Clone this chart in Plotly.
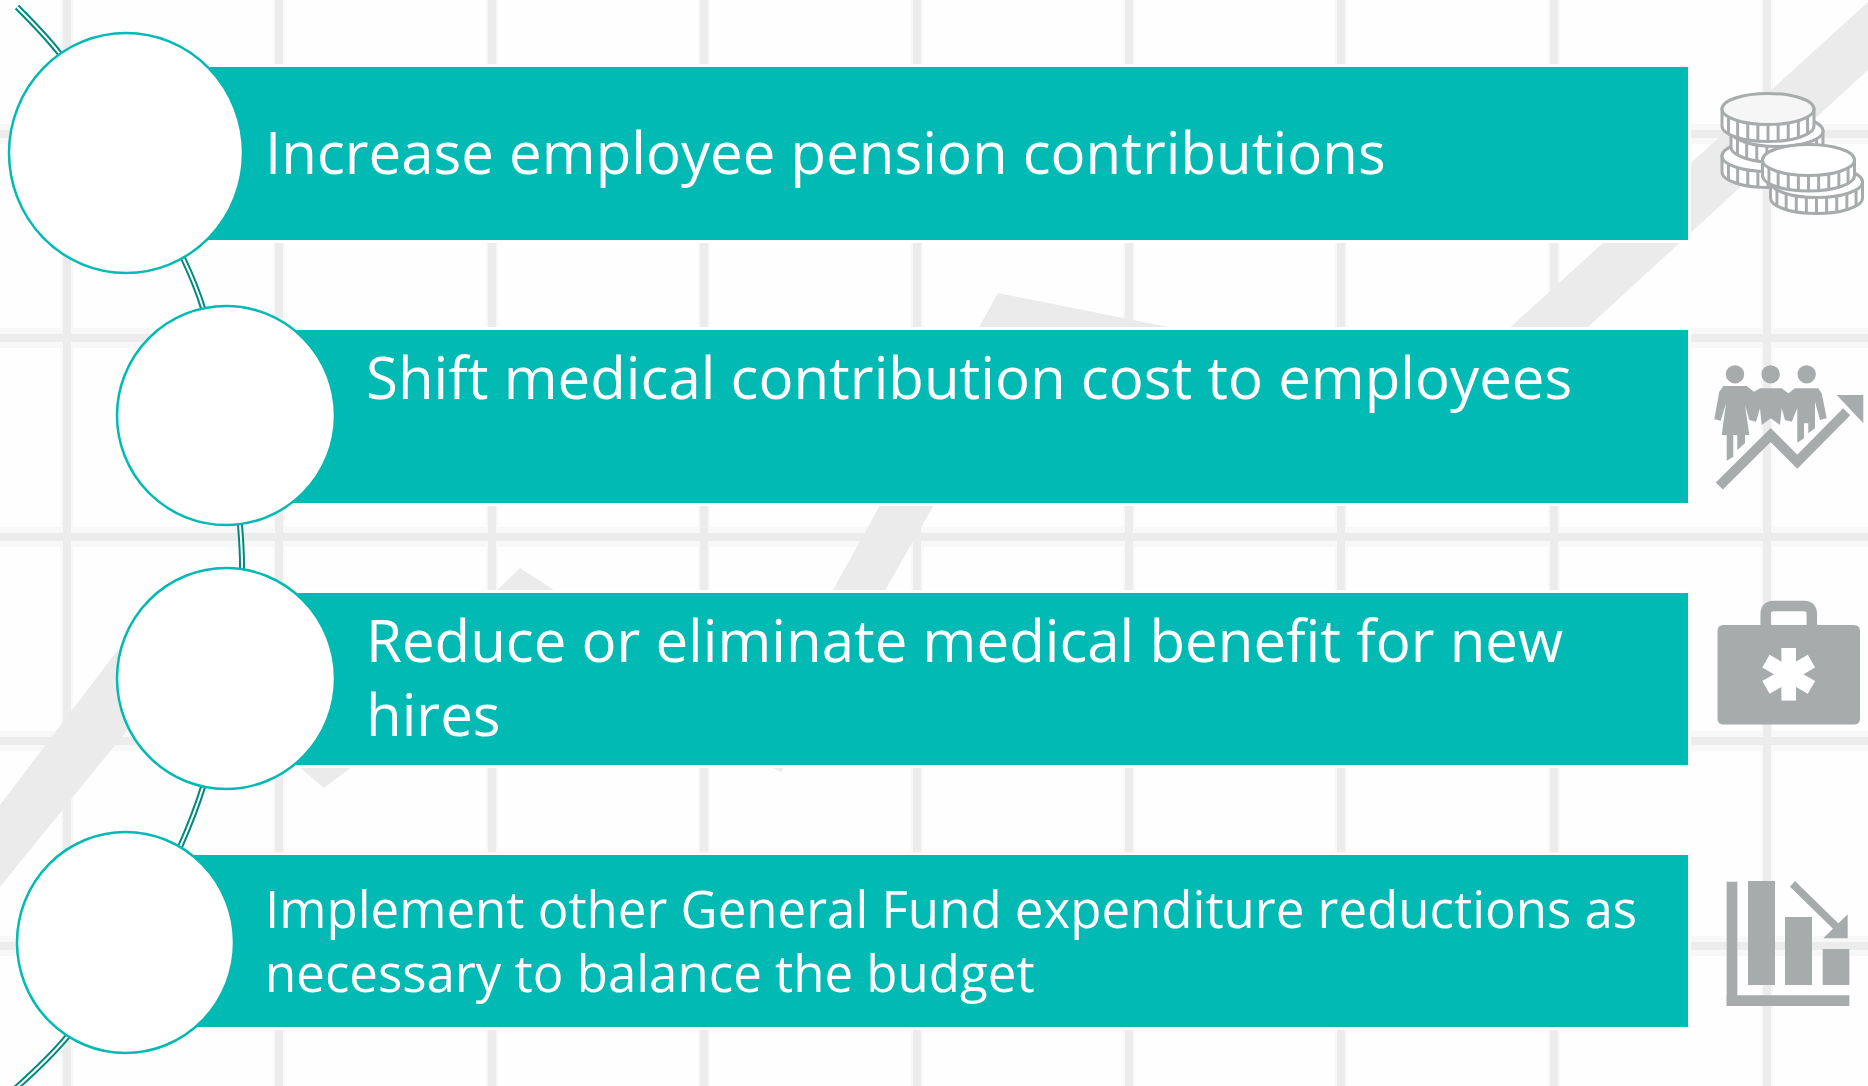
import math
import plotly.graph_objects as go

# ---------- content ----------
LABELS = [
    "Increase employee pension contributions",
    "Shift medical contribution cost to employees",
    "Reduce or eliminate medical benefit for new",
    "hires",
    "Implement other General Fund expenditure reductions as",
    "necessary to balance the budget",
]

# ---------- layout geometry (pixels of the 1868x1086 canvas) ----------
W, H = 1868, 1086
BAND_RIGHT = 1688
BAND_Y = [(67, 240), (330, 503), (593, 765), (855, 1027)]
CIRCLES = [(9, 243, 33, 273), (117, 335, 306, 525), (117, 335, 568, 789), (17, 234, 832, 1053)]
TEXT_POS = [(263, 151, 58.2), (364, 376, 58.2), (364, 639, 58.2), (364, 713, 58.2), (263, 908, 51), (263, 972, 51)]
GRID_X = [67, 279, 492, 704, 917, 1129, 1341, 1554, 1767]
GRID_Y = [134, 338, 537, 741, 946]
ARC_X = [17, 60, 120, 183, 203, 228, 240, 242, 236, 203, 180, 130, 67, 15]
ARC_Y = [7, 54, 145, 258, 308, 420, 525, 569, 650, 787, 847, 945, 1037, 1089]
BG_ZIGZAG = [(0, 805), (117, 651), (170, 590), (360, 724), (520, 568), (759, 723), (998, 293),
              (1449, 383), (1868, 2), (1868, 70), (1588, 327), (1470, 440), (1010, 372),
              (781, 772), (520, 640), (324, 788), (180, 665), (0, 887)]

TEAL = "#00bab3"
DARK = "#00897f"
GRAY = "#a8abac"
GRID = "#ececec"
GRID_SOFT = "#f8f8f8"
FONT = "Open Sans"

shapes = []


def poly(points, fill, layer="above"):
    d = "M" + " L".join(f"{x:.1f},{y:.1f}" for x, y in points) + " Z"
    return dict(type="path", path=d, fillcolor=fill, line=dict(width=0), layer=layer)


def rect(x0, y0, x1, y1, fill, layer="above"):
    return dict(type="rect", x0=x0, y0=y0, x1=x1, y1=y1, fillcolor=fill, line=dict(width=0), layer=layer)


# background grid + zigzag
for y in GRID_Y:
    shapes.append(rect(0, y - 10, W, y + 10, GRID_SOFT, "below"))
for x in GRID_X:
    shapes.append(rect(x - 6, 0, x + 6, H, GRID_SOFT, "below"))
for y in GRID_Y:
    shapes.append(rect(0, y - 4, W, y + 4, GRID, "below"))
for x in GRID_X:
    shapes.append(rect(x - 4, 0, x + 4, H, GRID, "below"))
shapes.append(poly(BG_ZIGZAG, "#ebebeb", "below"))

# bands and circles
for (y0, y1), (cx0, cx1, _, _) in zip(BAND_Y, CIRCLES):
    cx = (cx0 + cx1) / 2
    shapes.append(rect(cx, y0 - 3, BAND_RIGHT + 3, y1 + 3, "#ffffff"))
    shapes.append(rect(cx, y0, BAND_RIGHT, y1, TEAL))
for x0, x1, y0, y1 in CIRCLES:
    shapes.append(dict(type="circle", x0=x0, x1=x1, y0=y0, y1=y1, fillcolor="#ffffff",
                       line=dict(color=TEAL, width=2.5), layer="above"))


# ---------- icons ----------
def ellipse_d(cx, cy, rx, ry):
    k = 0.5523
    return (f"M{cx - rx},{cy} C{cx - rx},{cy - k * ry} {cx - k * rx},{cy - ry} {cx},{cy - ry} "
            f"C{cx + k * rx},{cy - ry} {cx + rx},{cy - k * ry} {cx + rx},{cy} "
            f"C{cx + rx},{cy + k * ry} {cx + k * rx},{cy + ry} {cx},{cy + ry} "
            f"C{cx - k * rx},{cy + ry} {cx - rx},{cy + k * ry} {cx - rx},{cy} Z")


def coin(cx, cy, h, rx=46, ry=15.5, top_fill="#ffffff"):
    k = 0.5523
    side = (f"M{cx - rx},{cy} L{cx - rx},{cy + h} "
            f"C{cx - rx},{cy + h + k * ry} {cx - k * rx},{cy + h + ry} {cx},{cy + h + ry} "
            f"C{cx + k * rx},{cy + h + ry} {cx + rx},{cy + h + k * ry} {cx + rx},{cy + h} "
            f"L{cx + rx},{cy} Z")
    stroke = dict(color=GRAY, width=3)
    shapes.append(dict(type="path", path=side, fillcolor="#ffffff", line=stroke, layer="above"))
    for t in (-0.86, -0.66, -0.44, -0.22, 0, 0.22, 0.44, 0.66, 0.86):
        x = cx + rx * t
        y = cy + ry * math.sqrt(1 - t * t)
        shapes.append(dict(type="line", x0=x, x1=x, y0=y, y1=y + h, line=dict(color=GRAY, width=3), layer="above"))
    shapes.append(dict(type="path", path=ellipse_d(cx, cy, rx, ry), fillcolor=top_fill, line=stroke, layer="above"))


coin(1768, 156, 16)
coin(1777, 131, 16)
coin(1768, 109, 17, top_fill="#f6f6f6")
coin(1816.5, 182, 16)
coin(1808.5, 160, 15.5)


# people (points in zoom units: x=1680+X/3, y=60+Y/3)
def P(pts):
    return [(1680 + x / 3, 60 + y / 3) for x, y in pts]


for hx in (165, 272, 380):
    cx, cy = P([(hx, 943)])[0]
    shapes.append(dict(type="circle", x0=cx - 9.2, x1=cx + 9.2, y0=cy - 9.2, y1=cy + 9.2,
                       fillcolor=GRAY, line=dict(width=0), layer="above"))
people = [
    [(130, 978), (200, 978), (222, 995), (240, 985), (305, 985), (325, 1000), (345, 985), (415, 985), (425, 1000),
     (440, 1075), (420, 1080), (405, 1025), (405, 1105), (385, 1120), (385, 1090), (372, 1090), (372, 1135),
     (352, 1148), (352, 1045), (335, 1085), (315, 1080), (305, 1045), (300, 1095), (272, 1075), (245, 1095),
     (240, 1045), (228, 1085), (208, 1080), (195, 1035), (208, 1125), (195, 1125), (195, 1150), (172, 1170),
     (172, 1125), (160, 1125), (160, 1190), (140, 1202), (140, 1125), (125, 1125), (138, 1030), (122, 1082),
     (103, 1078), (118, 995)],
]
for b in people:
    shapes.append(poly(P(b), GRAY))
line_pts = P([(118, 1278), (272, 1125), (352, 1205), (500, 1055)])
shapes.append(dict(type="path", path="M" + " L".join(f"{x:.1f},{y:.1f}" for x, y in line_pts),
                   line=dict(color=GRAY, width=10), layer="above"))
shapes.append(poly(P([(470, 1005), (550, 1005), (550, 1090)]), GRAY))


# medical case + chart (x=1680+X/3, y=580+Y/3)
def Q(pts):
    return [(1680 + x / 3, 580 + y / 3) for x, y in pts]


r = 6
x0, y0, x1, y1 = 1717.5, 625, 1860, 724.5
shapes.append(dict(type="path", fillcolor=GRAY, line=dict(width=0), layer="above",
                   path=f"M{x0 + r},{y0} L{x1 - r},{y0} Q{x1},{y0} {x1},{y0 + r} L{x1},{y1 - r} Q{x1},{y1} {x1 - r},{y1} "
                        f"L{x0 + r},{y1} Q{x0},{y1} {x0},{y1 - r} L{x0},{y0 + r} Q{x0},{y0} {x0 + r},{y0} Z"))
hx0, hy0, hx1 = 1760.5, 601, 1817
shapes.append(dict(type="path", fillcolor="rgba(0,0,0,0)", line=dict(color=GRAY, width=10.5), layer="above",
                   path=f"M{hx0 + 5.2},627 L{hx0 + 5.2},{hy0 + 13} Q{hx0 + 5.2},{hy0 + 5} {hx0 + 13},{hy0 + 5} "
                        f"L{hx1 - 13},{hy0 + 5} Q{hx1 - 5.2},{hy0 + 5} {hx1 - 5.2},{hy0 + 13} L{hx1 - 5.2},627"))
scx, scy, hl, hw = 1788.7, 674.3, 26.3, 7.3
for a in (90, 30, -30):
    c, s = math.cos(math.radians(a)), math.sin(math.radians(a))
    shapes.append(poly([(scx + u * c - v * s, scy + u * s + v * c)
                        for u, v in ((hl, hw), (hl, -hw), (-hl, -hw), (-hl, hw))], "#ffffff"))

for a0, b0, a1, b1 in ((140, 905, 172, 1278), (140, 1246, 508, 1278), (204, 903, 285, 1215),
                       (315, 1011, 396, 1215), (428, 1107, 508, 1215)):
    (u0, v0), (u1, v1) = Q([(a0, b0), (a1, b1)])
    shapes.append(rect(u0, v0, u1, v1, GRAY))
shapes.append(poly(Q([(330, 920), (345, 903), (480, 1035), (465, 1052)]), GRAY))
shapes.append(poly(Q([(503, 1003), (503, 1075), (430, 1075)]), GRAY))

# ---------- figure ----------
fig = go.Figure()
fig.add_trace(go.Scatter(x=ARC_X, y=ARC_Y, mode="lines", line=dict(color=DARK, width=6, shape="spline"),
                         hoverinfo="skip", showlegend=False))
fig.add_trace(go.Scatter(x=ARC_X, y=ARC_Y, mode="lines", line=dict(color="#ffffff", width=2, shape="spline"),
                         hoverinfo="skip", showlegend=False))

annotations = [
    dict(x=x, y=y, xref="x", yref="y", text=t, showarrow=False, xanchor="left", yanchor="middle", align="left",
         font=dict(family=FONT, size=s, color="#ffffff", weight=400))
    for t, (x, y, s) in zip(LABELS, TEXT_POS)
]

fig.update_layout(
    width=W, height=H, margin=dict(l=0, r=0, t=0, b=0),
    paper_bgcolor="#fefefe", plot_bgcolor="#fefefe",
    xaxis=dict(range=[0, W], visible=False, fixedrange=True),
    yaxis=dict(range=[H, 0], visible=False, fixedrange=True),
    shapes=shapes, annotations=annotations, showlegend=False,
)
fig.write_html("out.html", config=dict(displayModeBar=False),
               post_script="document.body.style.margin='0';document.documentElement.style.overflow='hidden';")
